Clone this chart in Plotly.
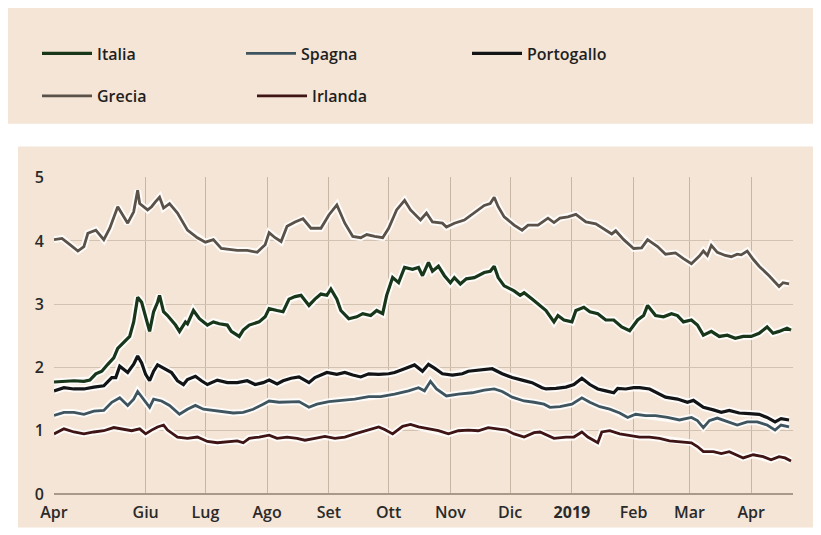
import pandas as pd
import plotly.graph_objects as go

# ---------------- data (days since 2018-04-16, values in %) ----------------
BASE_DATE = "2018-04-16"

grecia_days = [0, 4, 8, 12, 15, 17, 21, 25, 28, 32, 37, 40, 42, 43, 47, 49, 51, 53, 55, 58, 62, 67, 72, 76, 80, 84, 92, 97, 102, 106, 108, 111, 114, 117, 121, 125, 129, 134, 138, 142, 146, 150, 154, 157, 161, 165, 168, 172, 176, 179, 184, 187, 190, 195, 197, 201, 206, 211, 216, 219, 221, 223, 226, 231, 235, 238, 243, 248, 251, 254, 258, 262, 267, 272, 277, 280, 282, 286, 291, 295, 298, 303, 307, 312, 316, 320, 324, 326, 328, 330, 333, 337, 340, 343, 345, 348, 351, 354, 359, 364, 366, 369]
grecia_vals = [4.02, 4.04, 3.94, 3.84, 3.91, 4.12, 4.17, 4.02, 4.20, 4.54, 4.28, 4.46, 4.80, 4.59, 4.49, 4.54, 4.62, 4.69, 4.52, 4.59, 4.44, 4.17, 4.05, 3.98, 4.02, 3.88, 3.85, 3.85, 3.82, 3.94, 4.13, 4.05, 3.99, 4.23, 4.30, 4.35, 4.20, 4.20, 4.41, 4.57, 4.28, 4.07, 4.05, 4.10, 4.07, 4.05, 4.20, 4.49, 4.64, 4.49, 4.33, 4.44, 4.30, 4.28, 4.22, 4.28, 4.33, 4.44, 4.56, 4.59, 4.69, 4.54, 4.38, 4.25, 4.17, 4.25, 4.25, 4.36, 4.29, 4.36, 4.38, 4.42, 4.30, 4.27, 4.17, 4.11, 4.16, 4.02, 3.88, 3.89, 4.02, 3.91, 3.79, 3.81, 3.72, 3.64, 3.76, 3.84, 3.77, 3.93, 3.82, 3.77, 3.75, 3.79, 3.78, 3.84, 3.71, 3.60, 3.45, 3.28, 3.34, 3.32]

italia_days = [0, 5, 10, 15, 18, 21, 24, 27, 30, 32, 36, 38, 40, 42, 44, 46, 48, 50, 52, 53, 55, 57, 61, 63, 66, 67, 70, 73, 77, 80, 83, 87, 89, 93, 95, 98, 103, 106, 108, 112, 115, 118, 121, 124, 128, 131, 134, 137, 139, 142, 144, 148, 152, 155, 159, 162, 165, 167, 170, 173, 176, 180, 183, 185, 188, 190, 193, 196, 199, 201, 204, 207, 211, 216, 219, 221, 223, 226, 231, 234, 236, 240, 244, 247, 251, 253, 256, 260, 262, 266, 269, 273, 277, 281, 285, 289, 293, 296, 298, 302, 306, 310, 313, 316, 320, 323, 326, 330, 334, 338, 342, 346, 350, 354, 358, 361, 364, 368, 370]
italia_vals = [1.77, 1.78, 1.79, 1.78, 1.80, 1.90, 1.94, 2.05, 2.15, 2.30, 2.43, 2.49, 2.72, 3.11, 3.03, 2.82, 2.57, 2.88, 3.03, 3.14, 2.88, 2.82, 2.67, 2.57, 2.72, 2.69, 2.90, 2.77, 2.67, 2.72, 2.69, 2.67, 2.57, 2.49, 2.59, 2.67, 2.72, 2.80, 2.93, 2.90, 2.88, 3.08, 3.12, 3.14, 2.98, 3.08, 3.16, 3.14, 3.24, 3.08, 2.90, 2.77, 2.80, 2.85, 2.82, 2.90, 2.85, 3.14, 3.42, 3.34, 3.58, 3.55, 3.58, 3.45, 3.66, 3.52, 3.60, 3.45, 3.34, 3.42, 3.32, 3.40, 3.42, 3.50, 3.52, 3.60, 3.42, 3.29, 3.21, 3.14, 3.18, 3.08, 2.97, 2.90, 2.72, 2.82, 2.75, 2.72, 2.90, 2.95, 2.88, 2.85, 2.75, 2.75, 2.64, 2.58, 2.75, 2.82, 2.98, 2.82, 2.80, 2.85, 2.82, 2.72, 2.75, 2.67, 2.51, 2.57, 2.49, 2.51, 2.46, 2.49, 2.49, 2.54, 2.64, 2.54, 2.57, 2.62, 2.59]

portogallo_days = [0, 5, 10, 15, 20, 25, 29, 31, 33, 37, 40, 42, 44, 46, 48, 50, 52, 56, 59, 62, 65, 67, 71, 74, 77, 82, 87, 92, 97, 101, 105, 108, 112, 115, 119, 123, 128, 131, 137, 142, 146, 150, 154, 158, 163, 168, 171, 176, 181, 185, 188, 191, 195, 200, 205, 208, 215, 220, 225, 230, 235, 240, 245, 247, 252, 257, 261, 265, 269, 273, 277, 281, 283, 287, 291, 294, 299, 303, 307, 313, 318, 321, 326, 331, 335, 339, 344, 349, 354, 358, 362, 365, 369]
portogallo_vals = [1.63, 1.68, 1.66, 1.66, 1.69, 1.71, 1.84, 1.84, 2.02, 1.92, 2.05, 2.18, 2.07, 1.89, 1.79, 1.94, 2.04, 1.97, 1.92, 1.79, 1.73, 1.81, 1.86, 1.79, 1.73, 1.80, 1.76, 1.76, 1.79, 1.73, 1.76, 1.80, 1.74, 1.79, 1.83, 1.85, 1.76, 1.84, 1.92, 1.89, 1.92, 1.88, 1.85, 1.90, 1.89, 1.90, 1.92, 1.98, 2.04, 1.94, 2.05, 1.99, 1.90, 1.88, 1.90, 1.94, 1.97, 1.98, 1.90, 1.84, 1.80, 1.76, 1.68, 1.66, 1.67, 1.69, 1.73, 1.83, 1.73, 1.66, 1.63, 1.60, 1.67, 1.66, 1.68, 1.68, 1.66, 1.60, 1.53, 1.50, 1.45, 1.48, 1.37, 1.33, 1.29, 1.32, 1.28, 1.27, 1.26, 1.21, 1.14, 1.19, 1.17]

spagna_days = [0, 5, 10, 15, 20, 25, 29, 33, 37, 40, 42, 45, 48, 50, 54, 58, 63, 67, 71, 75, 80, 85, 90, 95, 100, 105, 108, 113, 118, 123, 128, 132, 138, 144, 151, 158, 164, 171, 178, 183, 186, 189, 192, 197, 203, 210, 216, 221, 225, 230, 236, 241, 246, 249, 254, 260, 265, 269, 274, 279, 284, 288, 292, 297, 302, 308, 314, 320, 323, 326, 329, 333, 338, 343, 348, 353, 358, 362, 365, 369]
spagna_vals = [1.24, 1.29, 1.29, 1.26, 1.31, 1.32, 1.45, 1.52, 1.40, 1.50, 1.62, 1.50, 1.37, 1.50, 1.47, 1.40, 1.26, 1.34, 1.40, 1.34, 1.32, 1.31, 1.28, 1.29, 1.34, 1.42, 1.47, 1.45, 1.46, 1.46, 1.37, 1.42, 1.46, 1.48, 1.50, 1.54, 1.54, 1.58, 1.63, 1.68, 1.63, 1.78, 1.66, 1.55, 1.58, 1.60, 1.64, 1.66, 1.62, 1.53, 1.47, 1.45, 1.42, 1.37, 1.38, 1.42, 1.52, 1.45, 1.38, 1.34, 1.28, 1.21, 1.26, 1.24, 1.24, 1.21, 1.17, 1.21, 1.16, 1.05, 1.16, 1.20, 1.14, 1.09, 1.14, 1.14, 1.09, 1.01, 1.09, 1.06]

irlanda_days = [0, 5, 10, 15, 20, 25, 30, 35, 39, 43, 46, 49, 52, 55, 57, 62, 67, 72, 77, 82, 87, 92, 95, 98, 103, 108, 112, 117, 122, 126, 131, 136, 141, 146, 151, 156, 163, 166, 170, 175, 179, 183, 188, 193, 198, 203, 208, 213, 218, 223, 227, 231, 236, 241, 244, 251, 257, 261, 265, 268, 273, 275, 279, 284, 289, 294, 299, 304, 309, 314, 320, 323, 326, 331, 335, 339, 343, 346, 351, 356, 360, 364, 367, 370]
irlanda_vals = [0.95, 1.03, 0.98, 0.95, 0.98, 1.00, 1.05, 1.02, 1.00, 1.03, 0.95, 1.01, 1.06, 1.09, 1.01, 0.90, 0.88, 0.90, 0.83, 0.81, 0.83, 0.84, 0.81, 0.88, 0.90, 0.93, 0.88, 0.90, 0.88, 0.85, 0.88, 0.91, 0.88, 0.90, 0.95, 1.00, 1.06, 1.02, 0.95, 1.07, 1.10, 1.06, 1.03, 1.00, 0.95, 1.00, 1.01, 1.00, 1.05, 1.03, 1.01, 0.95, 0.90, 0.97, 0.98, 0.88, 0.90, 0.90, 0.98, 0.90, 0.81, 0.98, 1.00, 0.95, 0.93, 0.90, 0.90, 0.88, 0.84, 0.83, 0.81, 0.75, 0.67, 0.67, 0.64, 0.67, 0.62, 0.57, 0.62, 0.59, 0.54, 0.59, 0.57, 0.52]

tick_dates = ["2018-04-16", "2018-06-01", "2018-07-01", "2018-08-01", "2018-09-01", "2018-10-01",
              "2018-11-01", "2018-12-01", "2019-01-01", "2019-02-01", "2019-03-01", "2019-04-01"]
tick_labels = ["Apr", "Giu", "Lug", "Ago", "Set", "Ott", "Nov", "Dic", "<b>2019</b>", "Feb", "Mar", "Apr"]
x_range = ["2018-04-16", "2019-04-22"]
y_ticks = [0, 1, 2, 3, 4, 5]

# ---------------- styling ----------------
# the page body has an 8px margin: the figure is sized to fit the window exactly
OFF = 8
W, H = 821 - OFF, 535 - OFF
ML, MR, MT, MB = 54 - OFF, 28, 177 - OFF, 37
PW, PH = W - ML - MR, H - MT - MB
BEIGE = "#f4e5d6"
FONT = "Open Sans"


def px_x(p):  # screen pixel -> paper x
    return (p - OFF - ML) / PW


def px_y(p):  # screen pixel -> paper y
    return (H - MB - (p - OFF)) / PH


def to_dates(days):
    return pd.Timestamp(BASE_DATE) + pd.to_timedelta(days, unit="D")


series = [
    # name, days, values, colour, width, legend id, legend line start (screen px)
    ("Grecia", grecia_days, grecia_vals, "#5a5148", 2.8, "legend4", (43, 95)),
    ("Italia", italia_days, italia_vals, "#17361a", 3.2, "legend", (43, 52)),
    ("Spagna", spagna_days, spagna_vals, "#3e5560", 2.8, "legend2", (247, 52)),
    ("Portogallo", portogallo_days, portogallo_vals, "#121416", 3.2, "legend3", (473, 52)),
    ("Irlanda", irlanda_days, irlanda_vals, "#3e1414", 2.8, "legend5", (258, 95)),
]

fig = go.Figure()

# white halos under the lines
for name, d, v, col, w, lg, pos in series:
    fig.add_trace(go.Scatter(x=to_dates(d), y=v, mode="lines", showlegend=False,
                             hoverinfo="skip",
                             line=dict(color="rgba(255,255,255,0.85)", width=w + 4)))

for name, d, v, col, w, lg, pos in series:
    fig.add_trace(go.Scatter(x=to_dates(d), y=v, mode="lines", name=name,
                             legend=lg, line=dict(color=col, width=w)))

legends = {}
for name, d, v, col, w, lg, pos in series:
    legends[lg] = dict(x=px_x(pos[0] - 6), y=px_y(pos[1]), xanchor="left", yanchor="middle",
                       bgcolor="rgba(0,0,0,0)", itemwidth=50,
                       font=dict(family=FONT, size=16, color="#1e1e1e", weight=600))

fig.update_layout(
    width=W, height=H,
    margin=dict(l=ML, r=MR, t=MT, b=MB),
    paper_bgcolor="white",
    plot_bgcolor="rgba(0,0,0,0)",
    font=dict(family=FONT, size=16, color="#2a2a2a"),
    **legends,
    shapes=[
        dict(type="rect", xref="paper", yref="paper", layer="below",
             x0=px_x(7), x1=px_x(820), y0=px_y(123), y1=px_y(5),
             fillcolor=BEIGE, line=dict(width=0)),
        dict(type="rect", xref="paper", yref="paper", layer="below",
             x0=px_x(18), x1=px_x(818), y0=px_y(532), y1=px_y(146),
             fillcolor=BEIGE, line=dict(width=0)),
    ],
)

fig.update_xaxes(type="date", range=x_range, tickvals=tick_dates, ticktext=tick_labels,
                 showgrid=True, gridcolor="#c7b6a4", gridwidth=1,
                 showline=False, zeroline=False, ticks="", ticklabelstandoff=7,
                 tickfont=dict(family=FONT, size=16, color="#2a2a2a", weight=600))
fig.update_yaxes(range=[0, 5.01], tickvals=y_ticks, showgrid=True, gridcolor="#d2c2b1",
                 gridwidth=1, zeroline=True, zerolinecolor="#a8998a", zerolinewidth=1.5,
                 showline=False, ticks="", ticklabelstandoff=9,
                 tickfont=dict(family=FONT, size=16, color="#2a2a2a", weight=600))

fig.write_html("out.html")
